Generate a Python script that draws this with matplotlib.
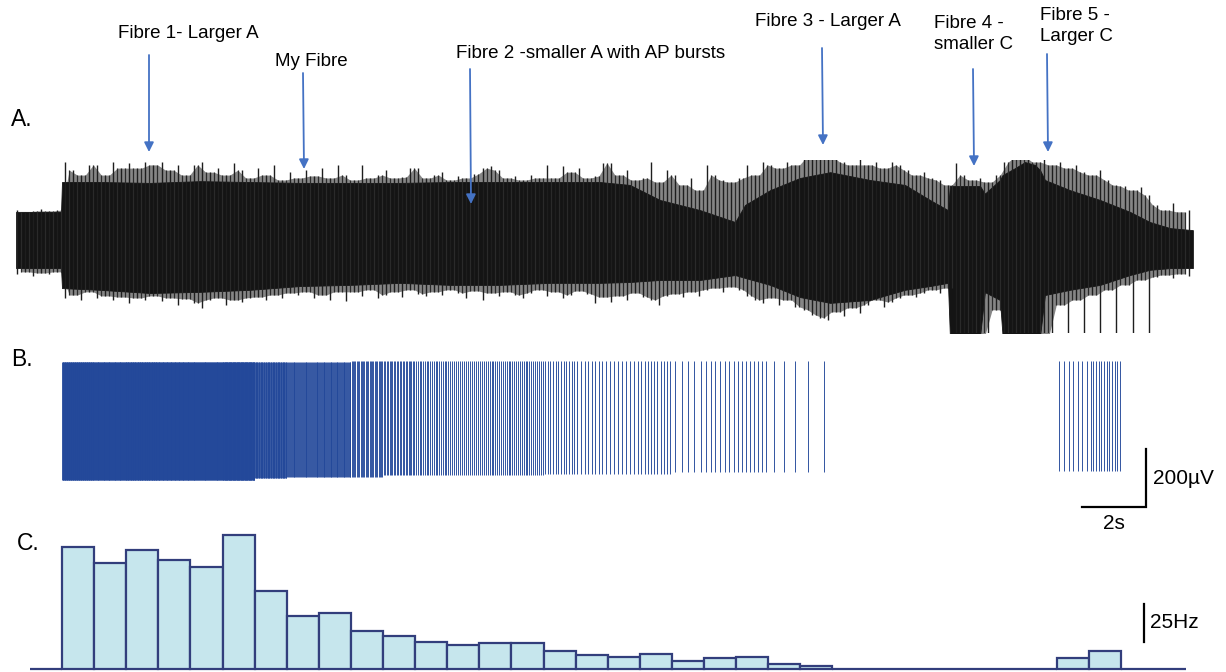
import numpy as np
import matplotlib
matplotlib.use("Agg")
import matplotlib.pyplot as plt

plt.rcParams["font.family"] = ["Liberation Sans", "DejaVu Sans"]

# ---------------- data ----------------
# A. raw multi-unit nerve recording: envelope knots (s, µV)
a_knot_t = [-1.43, -0.03, 0.00, 1.18, 2.74, 4.30, 5.86, 7.41, 8.97, 10.53,
            12.09, 13.64, 15.20, 16.76, 17.69, 18.63, 19.88, 20.97, 21.28, 22.06,
            22.99, 23.93, 25.17, 26.26, 27.04, 27.60, 27.66, 28.60, 28.75, 29.22,
            29.30, 29.69, 30.00, 30.31, 30.47, 30.62, 31.40, 32.34, 33.27, 33.89,
            34.52, 35.23]
a_core_top = [97, 97, 200, 200, 197, 203, 200, 197, 197, 197,
              200, 200, 200, 200, 190, 138, 103, 62, 121, 172,
              214, 234, 207, 190, 138, 103, 186, 186, 160, 207,
              224, 248, 269, 259, 241, 207, 172, 138, 97, 62,
              41, 34]
a_core_bot = [-97, -97, -166, -172, -183, -179, -172, -159, -155, -148,
              -155, -155, -148, -148, -145, -138, -138, -121, -131, -155,
              -197, -217, -207, -172, -159, -148, -330, -330, -180, -207,
              -330, -330, -330, -330, -330, -190, -172, -155, -121, -103,
              -97, -97]

# A. spike excursions beyond the dense band, sampled every 0.25 s from -1.4 s
a_tip_t0, a_tip_dt = -1.4, 0.25
a_tip_top = [103, 97, 100, 107, 100, 103,
             269, 241, 224, 259, 259, 224, 269, 248, 266, 248, 269, 259,
             269, 241, 259, 224, 259, 269, 234, 248, 224, 266, 241, 214,
             248, 224, 259, 207, 234, 214, 241, 221, 248, 214, 259, 224,
             207, 259, 214, 224, 241, 214, 217, 248, 248, 214, 224, 234,
             207, 221, 214, 228, 248, 255, 241, 214, 221, 207, 224, 214,
             259, 214, 255, 234, 248, 214, 221, 266, 266, 224, 241, 207,
             214, 269, 200, 241, 224, 190, 214, 172, 259, 224, 207, 200,
             214, 259, 224, 269, 259, 248, 269, 259, 290, 290, 290, 290,
             290, 269, 259, 290, 259, 269, 248, 269, 259, 241, 224, 234,
             214, 207, 190, 266, 224, 207, 214, 200, 224, 269, 290, 290,
             290, 269, 290, 259, 269, 248, 259, 234, 224, 241, 207, 190,
             186, 172, 183, 155, 121, 103, 128, 97, 103]
a_tip_bot = [-117, -110, -124, -114, -117, -110,
             -200, -190, -207, -179, -200, -193, -207, -197, -217, -200, -207, -193,
             -210, -200, -224, -203, -217, -234, -207, -200, -224, -207, -214, -200,
             -197, -207, -190, -200, -183, -190, -179, -200, -190, -207, -179, -210,
             -179, -193, -172, -200, -190, -179, -197, -172, -186, -193, -179, -190,
             -172, -183, -200, -176, -207, -183, -193, -179, -190, -200, -183, -172,
             -193, -179, -200, -190, -176, -186, -217, -197, -214, -193, -207, -183,
             -197, -207, -224, -193, -186, -197, -179, -193, -172, -166, -179, -162,
             -172, -193, -207, -217, -200, -224, -207, -231, -241, -259, -269, -276,
             -248, -262, -234, -252, -224, -207, -231, -214, -200, -190, -197, -183,
             -172, -183, -166, -340, -340, -340, -340, -340, -241, -340, -340, -340,
             -340, -340, -340, -340, -224, -340, -207, -340, -190, -340, -172, -340,
             -155, -340, -138, -340, -128, -121, -131, -117, -124]

# C. firing rate of the isolated fibre, 1 s bins starting at -1 s (Hz)
bin_start = -1.0
rate_hz = [0, 80, 70, 78, 72, 67, 88, 51, 35, 37, 25, 22, 18, 16, 17, 17, 12, 9,
           8, 10, 5, 7, 8, 3, 2, 0, 0, 0, 0, 0, 0, 0, 7, 12, 0, 0]

# B. isolated fibre spike amplitude per bin (µV)
b_top_uv = [0, 200, 200, 200, 200, 200, 200, 200, 200, 200, 203, 203, 203, 203,
            203, 203, 203, 203, 205, 205, 205, 205, 205, 205, 205, 0, 0, 0, 0,
            0, 0, 0, 205, 205, 0, 0]
b_bot_uv = [0, -205, -205, -205, -205, -205, -205, -200, -195, -195, -195, -190,
            -190, -190, -190, -190, -185, -185, -185, -185, -180, -180, -180,
            -180, -180, 0, 0, 0, 0, 0, 0, 0, -175, -175, 0, 0]

scale_uv, scale_s, scale_hz = 200, 2, 25

# ---------------- layout ----------------
W, H = 1226, 672
X0, PX_PER_S = 62, 32.1
XLIM = (-X0 / PX_PER_S, (W - X0) / PX_PER_S)

fig = plt.figure(figsize=(W / 100, H / 100), dpi=100)


def band_axes(y_top, y_bot):
    ax = fig.add_axes([0, 1 - y_bot / H, 1, (y_bot - y_top) / H])
    ax.set_xlim(*XLIM)
    ax.set_axis_off()
    ax.patch.set_alpha(0)
    return ax


# ---- A: raw recording ----
ax_a = band_axes(160, 333)
ax_a.set_ylim(-321, 276)
tip_t = a_tip_t0 + a_tip_dt * np.arange(len(a_tip_top))
tip_top = np.asarray(a_tip_top, float)
tip_bot = np.asarray(a_tip_bot, float)
# smaller units firing between the large excursions: bounded by both neighbours
mid_t = tip_t[:-1] + a_tip_dt / 2
mid_top = np.minimum(tip_top[:-1], tip_top[1:])
mid_bot = np.maximum(tip_bot[:-1], tip_bot[1:])
ax_a.fill_between(mid_t, mid_bot, mid_top, color="#868686", lw=0)
ax_a.fill_between(a_knot_t, a_core_bot, a_core_top, color="#141414", lw=0.6,
                  edgecolor="#141414")
ax_a.vlines(mid_t, mid_bot, mid_top, color="#2a2a2a", lw=0.9)
ax_a.vlines(tip_t, tip_bot, tip_top, color="#1e1e1e", lw=1.0)

# ---- B: isolated fibre ----
ax_b = band_axes(340, 530)
ax_b.set_ylim(-379, 276)
spk_t, spk_top, spk_bot = [], [], []
for i, n in enumerate(rate_hz):
    left = bin_start + i
    for j in range(n):
        spk_t.append(left + (j + 0.5) / n)
        spk_top.append(b_top_uv[i])
        spk_bot.append(b_bot_uv[i])
ax_b.vlines(spk_t, spk_bot, spk_top, color="#23489a", lw=0.65)

# scale bars: 2 s horizontal, 200 µV vertical
sb_x1, sb_y0 = 33.77, -300
ax_b.plot([sb_x1 - scale_s, sb_x1, sb_x1], [sb_y0, sb_y0, sb_y0 + scale_uv],
          color="black", lw=1.6, solid_joinstyle="miter", clip_on=False)
ax_b.annotate(f"{scale_s}s", xy=(sb_x1 - scale_s / 2, sb_y0), xytext=(0, -5),
              textcoords="offset points", ha="center", va="top", fontsize=15)
ax_b.annotate(f"{scale_uv}µV", xy=(sb_x1, sb_y0 + scale_uv / 2), xytext=(5, 0),
              textcoords="offset points", ha="left", va="center", fontsize=15)

# ---- C: firing-rate histogram ----
ax_c = band_axes(520, 672)
ax_c.set_ylim(-2.0, 98.0)
edges = bin_start + np.arange(len(rate_hz))
ax_c.bar(edges, rate_hz, width=1.0, align="edge", facecolor="#c6e6ed",
         edgecolor="#323e7c", lw=1.6)
sc_x, sc_y0 = 33.71, 17.8
ax_c.plot([sc_x, sc_x], [sc_y0, sc_y0 + scale_hz], color="black", lw=1.6)
ax_c.annotate(f"{scale_hz}Hz", xy=(sc_x, sc_y0 + scale_hz / 2), xytext=(4, 0),
              textcoords="offset points", ha="left", va="center", fontsize=15)

# ---- labels and arrows ----
ax_n = fig.add_axes([0, 0, 1, 1])
ax_n.set_xlim(0, W)
ax_n.set_ylim(H, 0)
ax_n.set_axis_off()
ax_n.patch.set_alpha(0)

for txt, y in (("A.", 120), ("B.", 359)):
    ax_n.text(11, y, txt, fontsize=16.5, ha="left", va="center")
ax_n.text(17, 544, "C.", fontsize=16.5, ha="left", va="center")

note_kw = dict(fontsize=13.5, va="center")
ax_n.text(188, 33, "Fibre 1- Larger A", ha="center", **note_kw)
ax_n.text(311, 61, "My Fibre", ha="center", **note_kw)
ax_n.text(591, 53, "Fibre 2 -smaller A with AP bursts", ha="center", **note_kw)
ax_n.text(828, 22, "Fibre 3 - Larger A", ha="center", **note_kw)
ax_n.text(934, 34, "Fibre 4 -\nsmaller C", ha="left", linespacing=1.35, **note_kw)
ax_n.text(1040, 26, "Fibre 5 -\nLarger C", ha="left", linespacing=1.35, **note_kw)

arrows = [((149, 55), (149, 152)), ((303, 73), (304, 169)),
          ((470, 69), (471, 204)), ((822, 48), (823, 145)),
          ((973, 69), (974, 166)), ((1047, 54), (1048, 152))]
for start, end in arrows:
    ax_n.annotate("", xy=end, xytext=start,
                  arrowprops=dict(arrowstyle="-|>", color="#4472c4", lw=1.3,
                                  mutation_scale=14, shrinkA=0, shrinkB=0))

fig.savefig("out.png", dpi=100)
